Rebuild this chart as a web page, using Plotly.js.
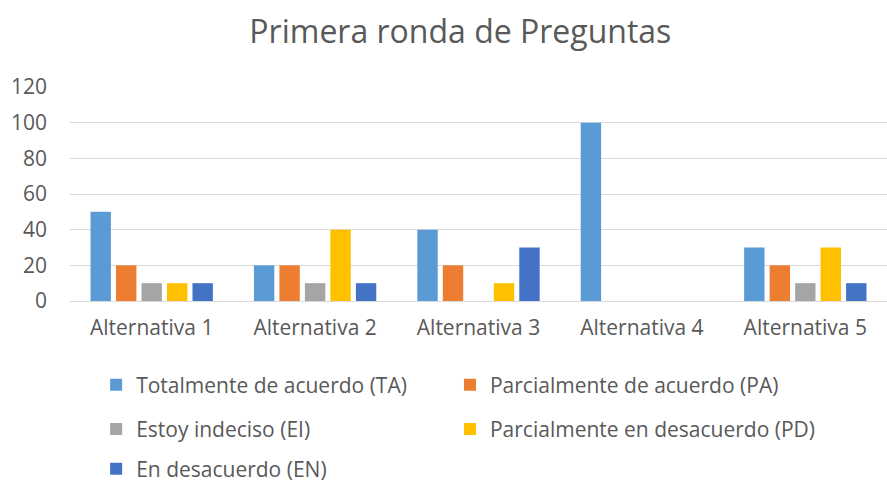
<!DOCTYPE html>
<html>
<head>
<meta charset="utf-8">
<script src="https://cdn.plot.ly/plotly-3.0.1.min.js"></script>
<style>html,body{margin:0;padding:0;background:#fff;}#chart{width:887px;height:484px;}</style>
</head>
<body>
<div id="chart"></div>
<script>
const categories = ["Alternativa 1", "Alternativa 2", "Alternativa 3", "Alternativa 4", "Alternativa 5"];
const seriesNames = ["Totalmente de acuerdo (TA)", "Parcialmente de acuerdo (PA)", "Estoy indeciso (EI)", "Parcialmente en desacuerdo (PD)", "En desacuerdo (EN)"];
const totalmenteAcuerdo = [50, 20, 40, 100, 30];
const parcialmenteAcuerdo = [20, 20, 20, 0, 20];
const estoyIndeciso = [10, 10, 0, 0, 10];
const parcialmenteDesacuerdo = [10, 40, 10, 0, 30];
const enDesacuerdo = [10, 10, 30, 0, 10];
const yTicks = [0, 20, 40, 60, 80, 100, 120];

const seriesValues = [totalmenteAcuerdo, parcialmenteAcuerdo, estoyIndeciso, parcialmenteDesacuerdo, enDesacuerdo];
const colors = ["#5B9BD5", "#ED7D31", "#A5A5A5", "#FFC000", "#4472C4"];
const legendIds = ["legend", "legend2", "legend3", "legend4", "legend5"];

const font = "'Open Sans', 'Noto Sans', sans-serif";
const grey = "#595959";

const data = seriesValues.map((vals, i) => ({
  type: "bar",
  x: categories,
  y: vals,
  name: seriesNames[i],
  marker: {color: colors[i]},
  legend: legendIds[i],
  hoverinfo: "x+y+name"
}));

const colX = [0.032, 0.4651];
const rowY = [-0.393, -0.600, -0.785];

function legendAt(x, y) {
  return {
    orientation: "v",
    x: x, xanchor: "left",
    y: y, yanchor: "middle",
    itemwidth: 30,
    font: {family: font, size: 21, color: grey},
    bgcolor: "rgba(0,0,0,0)"
  };
}

const layout = {
  width: 887, height: 484,
  margin: {l: 70, r: 0, t: 87, b: 183, autoexpand: false},
  paper_bgcolor: "#fff", plot_bgcolor: "#fff",
  title: {
    text: "Primera ronda de Preguntas",
    font: {family: font, size: 32, color: grey},
    x: 0.519, xanchor: "center", xref: "container",
    y: 0.934, yanchor: "middle", yref: "container"
  },
  barmode: "group",
  bargap: 0.22,
  bargroupgap: 0.2,
  xaxis: {
    type: "category",
    showgrid: false, zeroline: false, showline: false,
    ticks: "", ticklabelstandoff: 12,
    tickfont: {family: font, size: 21, color: grey},
    fixedrange: true
  },
  yaxis: {
    range: [0, 120],
    tickvals: yTicks,
    ticktext: yTicks.map(String),
    showgrid: true, gridcolor: "#D9D9D9", gridwidth: 1,
    zeroline: true, zerolinecolor: "#D9D9D9", zerolinewidth: 1,
    showline: false, ticks: "",
    ticklabelstandoff: 22,
    tickfont: {family: font, size: 21, color: grey},
    fixedrange: true
  },
  showlegend: true,
  legend: legendAt(colX[0], rowY[0]),
  legend2: legendAt(colX[1], rowY[0]),
  legend3: legendAt(colX[0], rowY[1]),
  legend4: legendAt(colX[1], rowY[1]),
  legend5: legendAt(colX[0], rowY[2])
};

Plotly.newPlot("chart", data, layout, {displayModeBar: false, staticPlot: true});
</script>
</body>
</html>
